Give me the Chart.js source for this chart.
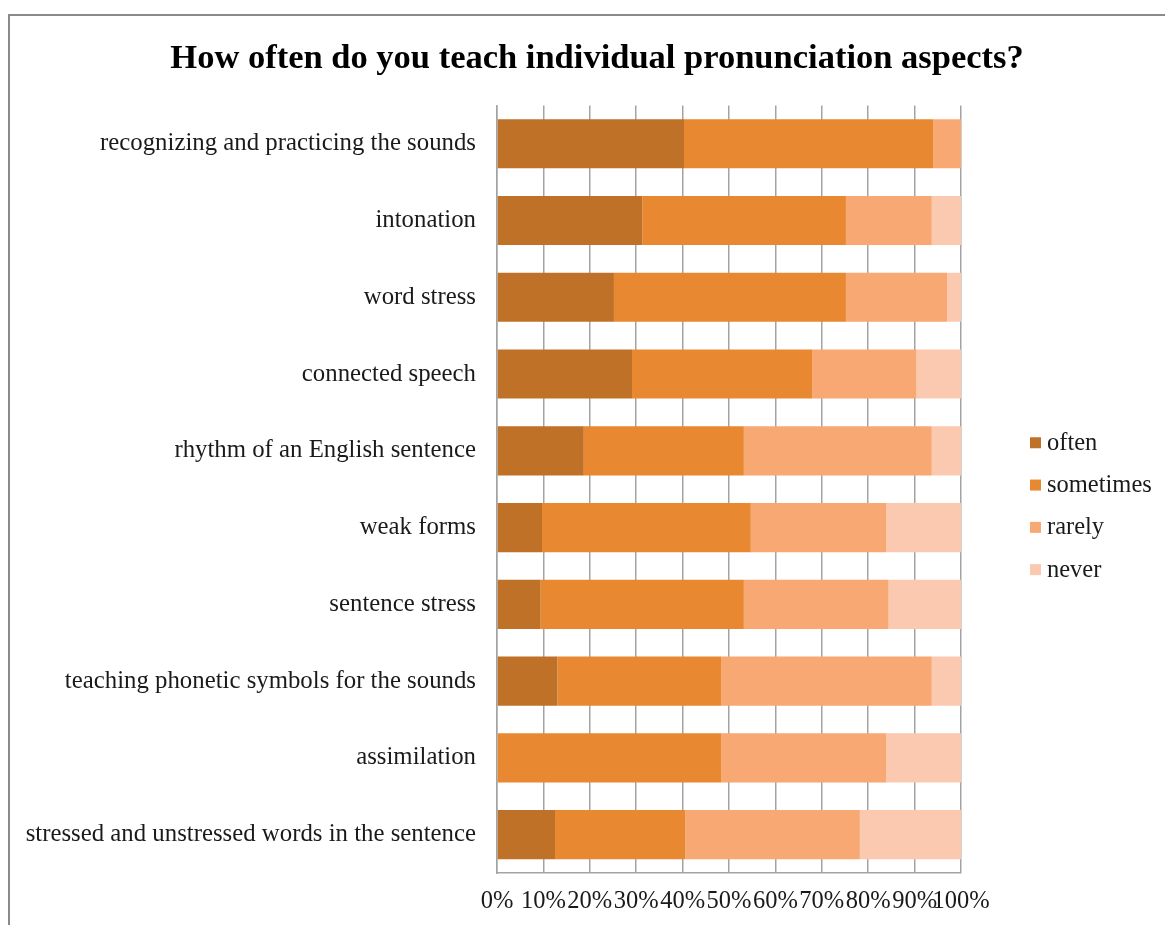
<!DOCTYPE html>
<html>
<head>
<meta charset="utf-8">
<script src="https://cdn.jsdelivr.net/npm/chart.js@4/dist/chart.umd.min.js"></script>
<style>
  html, body { margin: 0; padding: 0; background: #fff; overflow: hidden; width: 1165px; height: 925px; }
  #frame { position: absolute; left: 8px; top: 14px; width: 1300px; height: 1000px; border: 2px solid #8a8a8a; }
  #wrap { position: absolute; left: 0; top: 0; width: 1194px; height: 925px; }
</style>
</head>
<body>
<div id="frame"></div>
<div id="wrap"><canvas id="chart" width="1194" height="925"></canvas></div>
<script>
// Categories, top to bottom
const aspects = [
  'recognizing and practicing the sounds',
  'intonation',
  'word stress',
  'connected speech',
  'rhythm of an English sentence',
  'weak forms',
  'sentence stress',
  'teaching phonetic symbols for the sounds',
  'assimilation',
  'stressed and unstressed words in the sentence'
];

// Share of answers (%) per aspect
const often     = [40.3, 31.3, 25.2, 29.1, 18.7,  9.7,  9.4, 13.0,  0.0, 12.5];
const sometimes = [53.7, 43.9, 50.0, 38.8, 34.5, 45.0, 43.8, 35.3, 48.3, 28.1];
const rarely    = [ 6.0, 18.5, 21.8, 22.5, 40.5, 29.2, 31.2, 45.4, 35.6, 37.6];
const never     = [ 0.0,  6.3,  3.0,  9.6,  6.3, 16.1, 15.6,  6.3, 16.1, 21.8];

const seriesNames = ['often', 'sometimes', 'rarely', 'never'];
const seriesColors = ['#c07128', '#e88931', '#f7a873', '#fbc9af'];

const serif = "'Liberation Serif', 'Times New Roman', serif";
const labelSize = 24.8;

// Legend drawn by hand so it sits where the original one does
const sideLegend = {
  id: 'sideLegend',
  afterDraw(chart) {
    const c = chart.ctx;
    const area = chart.chartArea;
    const midY = (area.top + area.bottom) / 2 + 16.5;
    c.save();
    c.font = '24.5px ' + serif;
    c.textBaseline = 'middle';
    chart.data.datasets.forEach((ds, i) => {
      const y = midY + (i - 1.5) * 42.3;
      c.fillStyle = ds.backgroundColor;
      c.fillRect(area.right + 69, y - 5, 11, 11);
      c.fillStyle = '#1a1a1a';
      c.fillText(ds.label, area.right + 86, y + 1);
    });
    c.restore();
  }
};

const seriesData = [often, sometimes, rarely, never];

new Chart(document.getElementById('chart'), {
  type: 'bar',
  data: {
    labels: aspects,
    datasets: seriesNames.map((name, i) => ({
      label: name,
      data: seriesData[i],
      backgroundColor: seriesColors[i],
      borderWidth: 0,
      categoryPercentage: 1,
      barPercentage: 0.64
    }))
  },
  options: {
    indexAxis: 'y',
    responsive: false,
    animation: false,
    layout: { padding: { left: 0, right: 0, top: 14, bottom: 0 } },
    plugins: {
      legend: { display: false },
      tooltip: { enabled: false },
      title: {
        display: true,
        text: 'How often do you teach individual pronunciation aspects?',
        color: '#000',
        font: { family: serif, size: 34.5, weight: 'bold' },
        padding: { top: 24, bottom: 26 }
      }
    },
    scales: {
      x: {
        stacked: true,
        min: 0,
        max: 100,
        ticks: {
          stepSize: 10,
          autoSkip: false,
          maxRotation: 0,
          padding: 14,
          color: '#1a1a1a',
          font: { family: serif, size: 24.5 },
          callback: v => v + '%'
        },
        grid: { color: '#a3a3a3', lineWidth: 1.5, drawTicks: false },
        border: { color: '#a3a3a3', width: 1.5 },
        afterFit(axis) { axis.height = 52; }
      },
      y: {
        stacked: true,
        ticks: {
          padding: 21,
          color: '#1a1a1a',
          font: { family: serif, size: labelSize }
        },
        grid: { display: false, drawTicks: false },
        border: { color: '#a3a3a3', width: 1.5 },
        afterFit(axis) { axis.width = 497; }
      },
      // empty axis on the right that keeps room for the legend
      side: {
        type: 'category',
        position: 'right',
        ticks: { display: false },
        grid: { display: false, drawTicks: false },
        border: { display: false },
        afterFit(axis) { axis.width = 233; }
      }
    }
  },
  plugins: [sideLegend]
});
</script>
</body>
</html>
